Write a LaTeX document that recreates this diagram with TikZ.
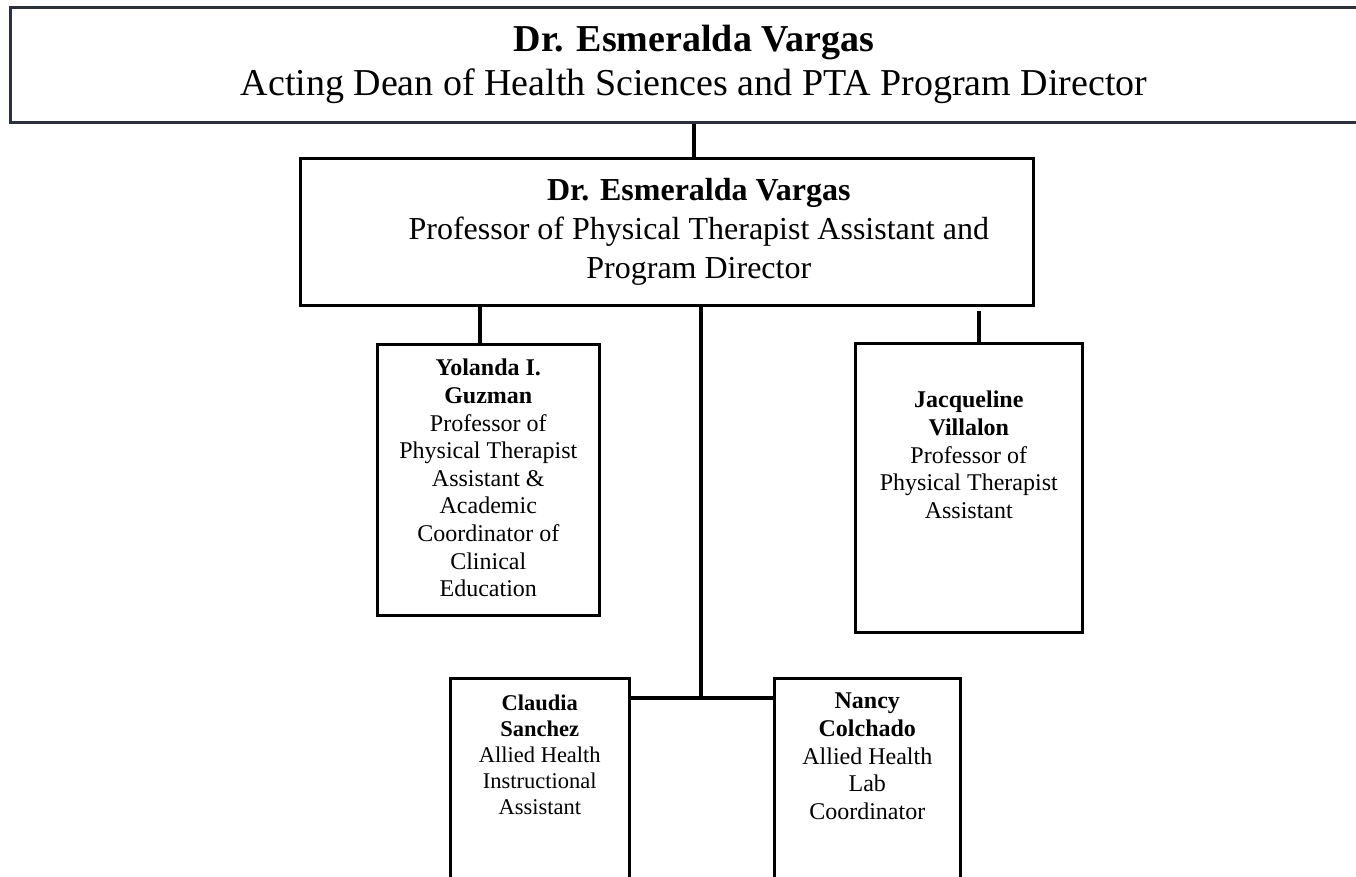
\documentclass[tikz,border=0pt]{standalone}
\usepackage{fontspec}
\setmainfont{Liberation Serif}
\usetikzlibrary{positioning,calc}
\definecolor{slate}{HTML}{2B303B}

\begin{document}
\begin{tikzpicture}[
    x=1pt, y=-1pt,
    topbox/.style={rectangle, draw=slate, line width=2.8pt, inner sep=0pt, anchor=north west},
    mainbox/.style={rectangle, draw=black, line width=2.6pt, inner sep=0pt, anchor=north west},
    staffbox/.style={rectangle, draw=black, line width=2.6pt, inner sep=0pt, anchor=north west},
    staff/.style={align=center, inner sep=0pt, anchor=north,
      font=\fontsize{24}{27.6}\selectfont},
    link/.style={line width=3.6pt, black},
  ]
    \fill[white] (0,0) rectangle (1356,876);
    \useasboundingbox (0,0) rectangle (1356,876);

    % Dean
    \node[topbox, minimum width=1450pt, minimum height=115pt] (dean) at (9,6) {};
    \node[font=\fontsize{38}{44}\selectfont, align=center, inner sep=0pt] (deantxt) at (694,64)
      {\textbf{Dr. Esmeralda Vargas}\\Acting Dean of Health Sciences and PTA Program Director};

    % Program director
    \node[mainbox, minimum width=733pt, minimum height=147pt] (director) at (299,157) {};
    \node[font=\fontsize{32}{39}\selectfont, align=center, inner sep=0pt] (directortxt)
      at ([xshift=32pt]director.center)
      {\textbf{Dr. Esmeralda Vargas}\\Professor of Physical Therapist Assistant and\\Program Director};

    % Faculty
    \node[staffbox, minimum width=222pt, minimum height=271pt] (guzman) at (376,343) {};
    \node[staff, below=16pt of guzman.north] (guzmantxt)
      {\textbf{Yolanda I.}\\\textbf{Guzman}\\Professor of\\Physical Therapist\\Assistant \&\\Academic\\Coordinator of\\Clinical\\Education};
    \node[staffbox, minimum width=227pt, minimum height=289pt] (villalon) at (854,342) {};
    \node[staff, below=49pt of villalon.north] (villalontxt)
      {\textbf{Jacqueline}\\\textbf{Villalon}\\Professor of\\Physical Therapist\\Assistant};

    % Staff
    \node[staffbox, minimum width=179pt, minimum height=240pt] (sanchez) at (449,677) {};
    \node[staff, below=18pt of sanchez.north, font=\fontsize{22.5}{26}\selectfont] (sancheztxt)
      {\textbf{Claudia}\\\textbf{Sanchez}\\Allied Health\\Instructional\\Assistant};
    \node[staffbox, minimum width=186pt, minimum height=240pt] (colchado) at (773,677) {};
    \node[staff, below=16pt of colchado.north] (colchadotxt)
      {\textbf{Nancy}\\\textbf{Colchado}\\Allied Health\\Lab\\Coordinator};

    % Links
    \coordinate (dtap) at (694,0);
    \coordinate (gtap) at (480,0);
    \coordinate (jtap) at (979,311);
    \coordinate (hub) at (701,698);
    \draw[link] (dtap |- dean.south) -- (dtap |- director.north);
    \draw[link] (gtap |- director.south) -- (gtap |- guzman.north);
    \draw[link] (jtap) -- (jtap |- villalon.north);
    \draw[link] (hub |- director.south) -- (hub);
    \draw[link] (sanchez.east |- hub) -- (colchado.west |- hub);
\end{tikzpicture}
\end{document}
